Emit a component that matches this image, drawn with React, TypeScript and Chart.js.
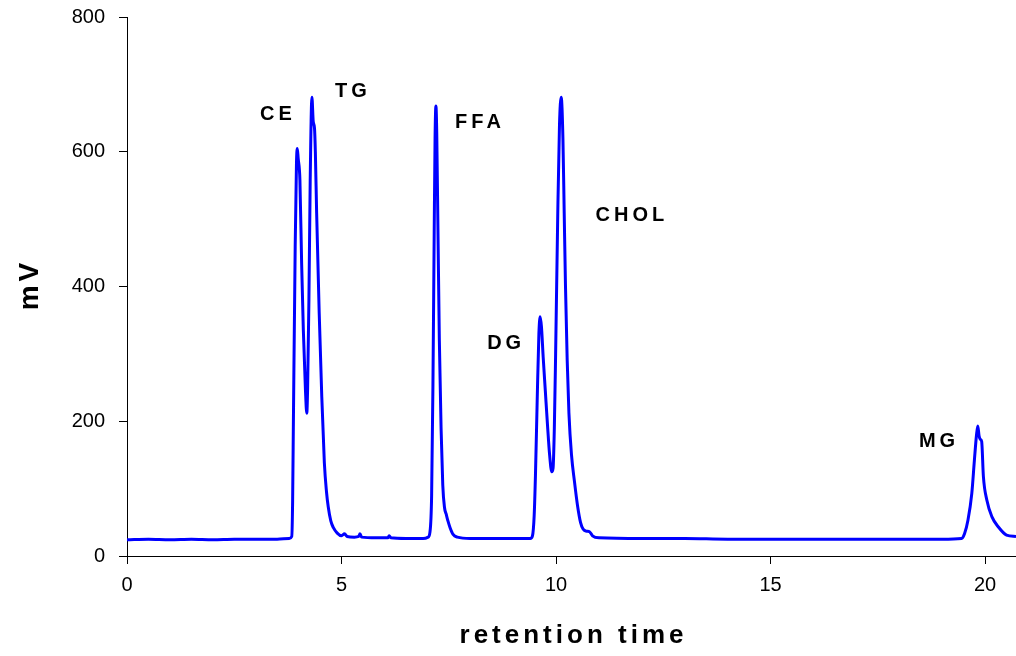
import React, { useEffect, useRef } from "react";
import { Chart, registerables } from "chart.js";

Chart.register(...registerables);

// Retention time (min) and detector signal (mV)
const times = [
  0, 0.5, 1.0, 1.5, 2.0, 2.5, 3.0, 3.5, 3.78, 3.84, 3.86, 3.88, 3.92, 3.95, 3.97, 3.99,
  4.03, 4.07, 4.11, 4.16, 4.19, 4.21, 4.24, 4.27, 4.31, 4.34, 4.37, 4.39, 4.42, 4.48,
  4.54, 4.6, 4.65, 4.69, 4.75, 4.81, 4.9, 5.0, 5.07, 5.13, 5.3, 5.4, 5.43, 5.47, 5.8,
  6.08, 6.11, 6.15, 6.5, 6.9, 7.02, 7.06, 7.1, 7.13, 7.16, 7.18, 7.2, 7.22, 7.25, 7.28,
  7.32, 7.36, 7.4, 7.44, 7.48, 7.53, 7.6, 7.7, 8.0, 8.5, 9.0, 9.4, 9.45, 9.49, 9.52,
  9.56, 9.6, 9.63, 9.66, 9.7, 9.75, 9.8, 9.85, 9.9, 9.93, 9.96, 9.99, 10.04, 10.08,
  10.12, 10.16, 10.19, 10.22, 10.26, 10.3, 10.36, 10.43, 10.5, 10.57, 10.63, 10.7,
  10.78, 10.85, 11.0, 12, 13, 14, 15, 16, 17, 18, 19, 19.45, 19.52, 19.6, 19.69, 19.75,
  19.8, 19.83, 19.86, 19.89, 19.92, 19.96, 20.04, 20.16, 20.31, 20.5, 20.72,
];
const signal = [
  24, 25, 24, 25, 24, 25, 25, 25, 26, 29, 80, 212, 459, 583, 605, 590,
  558, 435, 335, 245, 212, 250, 380, 558, 681, 645, 635, 600, 509, 360,
  236, 138, 95, 73, 52, 42, 34, 30, 33, 29, 28, 29, 33, 28, 27,
  27, 30, 27, 26, 26, 28, 35, 90, 250, 480, 620, 668, 625, 470, 320,
  190, 105, 72, 62, 52, 42, 32, 28, 26, 26, 26, 26, 30, 60, 120,
  230, 330, 355, 340, 295, 245, 195, 150, 125, 130, 190, 300, 509, 640,
  681, 620, 509, 400, 290, 212, 150, 110, 75, 50, 40, 37,
  36, 30, 27, 26, 26, 25, 25, 25, 25, 25, 25, 26, 33, 53, 93, 142,
  180, 193, 178, 173, 170, 118, 83, 58, 43, 31, 29,
];

// Peak labels
const peakNames = ["CE", "TG", "FFA", "DG", "CHOL", "MG"];
const peakLabelTime = [3.47, 5.22, 8.18, 8.79, 11.72, 18.88];
const peakLabelMv = [656, 689, 643, 315, 506, 170];

// Axis settings
const xMax = 20.72;
const yTicks = [0, 200, 400, 600, 800];
const xTicks = [0, 5, 10, 15, 20];

const FONT = "'Liberation Sans', Arial, sans-serif";

export default function App() {
  const ref = useRef<HTMLCanvasElement | null>(null);

  useEffect(() => {
    if (!ref.current) return;
    const textPlugin = {
      id: "texts",
      afterDraw(chart: any) {
        const ctx = chart.ctx as CanvasRenderingContext2D;
        const xs = chart.scales.x;
        const ys = chart.scales.y;
        const area = chart.chartArea;
        ctx.save();
        ctx.fillStyle = "#000";
        ctx.textAlign = "center";
        ctx.textBaseline = "middle";
        // peak annotations
        ctx.font = `bold 20px ${FONT}`;
        (ctx as any).letterSpacing = "4px";
        peakNames.forEach((n, i) => {
          ctx.fillText(n, xs.getPixelForValue(peakLabelTime[i]) + 2, ys.getPixelForValue(peakLabelMv[i]));
        });
        // x title
        ctx.font = `bold 26px ${FONT}`;
        ctx.fillText("retention time", (area.left + area.right) / 2 + 2, area.bottom + 80);
        // y title
        ctx.translate(30, (area.top + area.bottom) / 2);
        ctx.rotate(-Math.PI / 2);
        ctx.font = `bold 28px ${FONT}`;
        ctx.fillText("mV", 2, 0);
        ctx.restore();
      },
    };

    const chart = new Chart(ref.current, {
      type: "line",
      data: {
        datasets: [
          {
            data: times.map((t, i) => ({ x: t, y: signal[i] })),
            borderColor: "#0000FF",
            borderWidth: 3,
            pointRadius: 0,
            cubicInterpolationMode: "monotone",
            fill: false,
          },
        ],
      },
      options: {
        animation: false,
        responsive: false,
        devicePixelRatio: 1,
        layout: { padding: { top: 17, right: 0, left: 0, bottom: 0 } },
        plugins: { legend: { display: false }, tooltip: { enabled: false } },
        scales: {
          x: {
            type: "linear",
            min: 0,
            max: xMax,
            afterFit: (s: any) => {
              s.height = 100;
              s.paddingLeft = 0;
              s.paddingRight = 0;
            },
            afterBuildTicks: (s: any) => {
              s.ticks = xTicks.map((v) => ({ value: v }));
            },
            ticks: {
              color: "#000",
              font: { family: FONT, size: 20 },
              padding: 9,
              maxRotation: 0,
            },
            grid: {
              drawOnChartArea: false,
              drawTicks: true,
              tickLength: 8,
              color: "#000",
            },
            border: { display: true, color: "#000", width: 1 },
          },
          y: {
            min: 0,
            max: 800,
            afterFit: (s: any) => {
              s.width = 127;
              s.paddingTop = 0;
              s.paddingBottom = 0;
            },
            afterBuildTicks: (s: any) => {
              s.ticks = yTicks.map((v) => ({ value: v }));
            },
            ticks: {
              color: "#000",
              font: { family: FONT, size: 20 },
              padding: 14,
            },
            grid: {
              drawOnChartArea: false,
              drawTicks: true,
              tickLength: 8,
              color: "#000",
            },
            border: { display: true, color: "#000", width: 1 },
          },
        },
      },
      plugins: [textPlugin],
    });
    return () => chart.destroy();
  }, []);

  return (
    <div style={{ position: "absolute", left: 0, top: 0, width: 1016, height: 656, background: "#fff" }}>
      <canvas ref={ref} width={1016} height={656} style={{ width: 1016, height: 656 }} />
    </div>
  );
}
